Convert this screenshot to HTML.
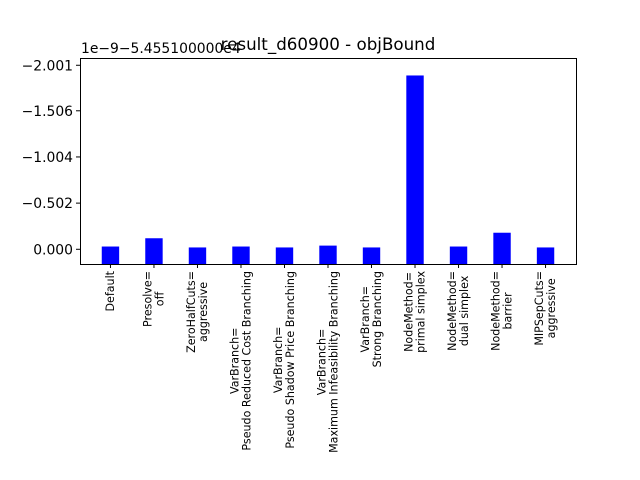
<!DOCTYPE html>
<html><head><meta charset="utf-8"><style>
body{margin:0;background:#fff}
svg{display:block;font-family:"DejaVu Sans","Liberation Sans",sans-serif}
</style></head><body>
<svg id="c" width="640" height="480">
<text x="328" y="50" text-anchor="middle" font-size="16.7">result_d60900 - objBound</text>
<text x="81" y="53" font-size="13.9">1e−9−5.455100000e4</text>
<g id="bars"></g><g id="yax"></g><g id="xax"></g>
<rect x="80.5" y="58.5" width="496" height="206" fill="none" stroke="#000" stroke-width="1"/>
</svg>
<script>
const categories=["Default","Presolve=\noff","ZeroHalfCuts=\naggressive","VarBranch=\nPseudo Reduced Cost Branching","VarBranch=\nPseudo Shadow Price Branching","VarBranch=\nMaximum Infeasibility Branching","VarBranch=\nStrong Branching","NodeMethod=\nprimal simplex","NodeMethod=\ndual simplex","NodeMethod=\nbarrier","MIPSepCuts=\naggressive"];
const values=[0.03,0.12,0.02,0.03,0.02,0.04,0.02,1.89,0.03,0.18,0.02];
const tickValues=[0,0.502,1.004,1.506,2.001];
const tickLabels=["0.000","−0.502","−1.004","−1.506","−2.001"];
const NS="http://www.w3.org/2000/svg";
const L=80,R=576,T=58,B=264,ymin=-0.16,ymax=2.08;
const n=categories.length,xmin=-0.5-0.2,xmax=n-0.5+0.2;
const xs=v=>L+(v-xmin)/(xmax-xmin)*(R-L);
const ys=v=>B-(v-ymin)/(ymax-ymin)*(B-T);
function mk(t,a,p){const e=document.createElementNS(NS,t);for(const k in a)e.setAttribute(k,a[k]);p.appendChild(e);return e;}
const bw=(xs(0.4)-xs(0));
values.forEach((v,i)=>{
 const r=mk("rect",{x:xs(i)-bw/2,y:ys(v),width:bw,height:B-ys(v),fill:"#0000ff"},document.getElementById("bars"));
 
 
});
const ya=document.getElementById("yax");
tickValues.forEach((v,i)=>{
 const y=ys(v);
 mk("line",{x1:L-4,x2:L,y1:y,y2:y,stroke:"#000"},ya);
 const t=mk("text",{x:L-7,y:y+5,"text-anchor":"end","font-size":"13.9"},ya);
 t.textContent=tickLabels[i];
 
 
});
const xa=document.getElementById("xax");
categories.forEach((c,i)=>{
 const x=xs(i);
 mk("line",{x1:x,x2:x,y1:B,y2:B+4,stroke:"#000"},xa);
 const lines=c.split("\n");
 const g=mk("g",{},xa);
 
 
 const ts=lines.map(s=>{const t=mk("text",{"font-size":"11.1","text-anchor":"middle"},g);t.textContent=s;return t;});
 const maxL=Math.max(...ts.map(t=>t.getComputedTextLength()));
 const lh=12,nl=lines.length;
 ts.forEach((t,j)=>{
  const cx=x-(nl*lh)/2+lh*(j+0.78);
  const cy=B+7+maxL/2;
  t.setAttribute("transform",`translate(${cx},${cy}) rotate(-90)`);
 });
});
</script>
</body></html>
